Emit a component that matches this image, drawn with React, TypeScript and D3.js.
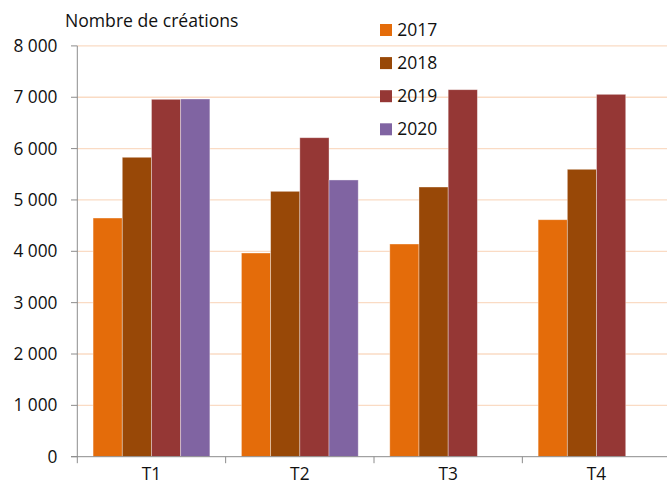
import React from "react";
import * as d3 from "d3";

const categories = ["T1", "T2", "T3", "T4"];
const seriesNames = ["2017", "2018", "2019", "2020"];
const values2017 = [4648, 3967, 4142, 4615];
const values2018 = [5831, 5168, 5252, 5597];
const values2019 = [6960, 6212, 7147, 7057];
const values2020: (number | null)[] = [6966, 5389, null, null];
const yTicks = [0, 1000, 2000, 3000, 4000, 5000, 6000, 7000, 8000];
const colors = ["#E46C0A", "#984807", "#953735", "#8064A2"];

const W = 667;
const H = 483;
const FONT = "'Open Sans', sans-serif";

export default function App() {
  const series = [values2017, values2018, values2019, values2020];
  const left = 77.3;
  const y = d3.scaleLinear().domain([0, 8000]).range([456.7, 45.9]);
  const x0 = d3
    .scaleBand<string>()
    .domain(categories)
    .range([left, 670.7])
    .paddingInner(0.2127)
    .paddingOuter(0.10635);
  const x1 = d3
    .scaleBand<string>()
    .domain(seriesNames)
    .range([0, x0.bandwidth()]);
  const step = x0.step();
  const fmt = (v: number) =>
    v === 0 ? "0" : d3.format(",")(v).replace(/,/g, "\u00A0");

  return (
    <svg
      width={W}
      height={H}
      style={{ position: "absolute", left: 0, top: 0, background: "#fff" }}
      fontFamily={FONT}
    >
      {yTicks.map((t) => (
        <g key={t}>
          {t > 0 && (
            <line x1={left} x2={W} y1={y(t)} y2={y(t)} stroke="#FADBC4" strokeWidth={1.3} />
          )}
          <line x1={71} x2={left} y1={y(t)} y2={y(t)} stroke="#8c8c8c" strokeWidth={1} />
          <text x={57.5} y={y(t) + 6} textAnchor="end" fontSize={17.3} fill="#111">
            {fmt(t)}
          </text>
        </g>
      ))}
      {categories.map((c, ci) =>
        series.map((s, si) => {
          const v = s[ci];
          if (v == null) return null;
          const bx = (x0(c) as number) + (x1(seriesNames[si]) as number);
          return (
            <rect
              key={c + si}
              x={bx}
              y={y(v)}
              width={x1.bandwidth()}
              height={y(0) - y(v)}
              fill={colors[si]}
              stroke="rgba(255,255,255,0.45)"
              strokeWidth={0.8}
            />
          );
        })
      )}
      <line x1={left} x2={left} y1={y(8000)} y2={y(0)} stroke="#8c8c8c" strokeWidth={1} />
      <line x1={71} x2={W} y1={y(0)} y2={y(0)} stroke="#8c8c8c" strokeWidth={1} />
      {d3.range(categories.length + 1).map((i) => (
        <line
          key={i}
          x1={left + i * step}
          x2={left + i * step}
          y1={y(0)}
          y2={y(0) + 6.5}
          stroke="#8c8c8c"
          strokeWidth={1}
        />
      ))}
      {categories.map((c) => (
        <text
          key={c}
          x={(x0(c) as number) + x0.bandwidth() / 2}
          y={479.5}
          textAnchor="middle"
          fontSize={17.3}
          fill="#111"
        >
          {c}
        </text>
      ))}
      <text x={65} y={26.7} fontSize={17.6} fill="#111">
        Nombre de créations
      </text>
      {seriesNames.map((n, i) => (
        <g key={n}>
          <rect x={380} y={24 + i * 33.1} width={12} height={12} fill={colors[i]} />
          <text x={397.3} y={36 + i * 33.1} fontSize={17.5} fill="#111">
            {n}
          </text>
        </g>
      ))}
    </svg>
  );
}
